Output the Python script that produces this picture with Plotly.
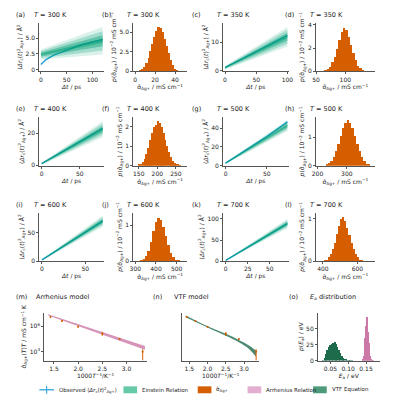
import plotly.graph_objects as go

temps = [300, 350, 400, 500, 600, 700]
t_max = [120, 100, 80, 75, 70, 70]
msd_yrange = [7.5, 17, 30, 52, 85, 115]
msd_yticks = [[0, 2.5, 5.0], [0, 10], [0, 20], [0, 20, 40], [0, 50], [0, 50, 100]]
msd_xticks = [[0, 50, 100], [0, 50, 100], [0, 50], [0, 50], [0, 50], [0, 25, 50]]
band_start = [2.4, 1.0, 1.0, 2.5, 2.0, 2.0]
band_start_hw = [0.8, 0.6, 0.6, 1.0, 1.0, 1.0]
band_end = [4.6, 12.0, 22.5, 43.0, 70.0, 89.0]
band_end_hw = [2.2, 3.5, 5.0, 6.0, 10.0, 11.0]
obs_t = [[0, 10, 25, 50, 80, 120], [0, 100], [0, 80], [0, 25, 50, 75], [0, 70], [0, 70]]
obs_y = [[0.8, 1.6, 2.3, 3.1, 4.0, 4.8], [1.0, 12.5], [1.0, 23.0], [2.5, 17, 31, 47], [2.0, 70], [2.0, 89]]

hist_x0 = [6, 66, 152.5, 232, 330, 410]
hist_dx = [2, 4, 5, 8, 12, 12]
hist_h = [
    [0.1, 0.3, 0.6, 1.1, 1.8, 2.6, 3.5, 4.4, 5.2, 5.7, 5.6, 5.0, 4.2, 3.3, 2.4, 1.5, 0.8, 0.3, 0.1],
    [0.1, 0.2, 0.4, 0.8, 1.3, 2.0, 2.7, 3.4, 3.8, 3.6, 3.0, 2.3, 1.6, 1.0, 0.5, 0.3, 0.1, 0.05],
    [0.05, 0.1, 0.2, 0.35, 0.6, 0.9, 1.3, 1.7, 2.0, 2.1, 2.3, 2.2, 2.0, 1.7, 1.3, 1.0, 0.7, 0.45, 0.25, 0.15, 0.08, 0.04, 0.02],
    [0.03, 0.08, 0.17, 0.3, 0.5, 0.75, 1.05, 1.3, 1.5, 1.6, 1.5, 1.3, 1.05, 0.75, 0.5, 0.3, 0.15, 0.07, 0.03],
    [0.03, 0.07, 0.15, 0.3, 0.55, 0.85, 1.1, 1.2, 1.15, 0.95, 0.7, 0.45, 0.25, 0.12, 0.06, 0.03, 0.01],
    [0.02, 0.05, 0.1, 0.18, 0.3, 0.45, 0.65, 0.85, 1.0, 1.05, 0.95, 0.8, 0.62, 0.45, 0.3, 0.18, 0.1, 0.05, 0.03, 0.01, 0.005],
]
hist_xrange = [[-2, 52], [50, 150], [135, 280], [195, 395], [290, 550], [360, 700]]
hist_yrange = [6.2, 4.2, 2.5, 1.7, 1.35, 1.15]
hist_xticks = [[0, 20, 40], [50, 100], [150, 200, 250], [200, 300], [300, 400, 500], [400, 600]]
hist_yticks = [[0, 2.5, 5.0], [0, 2, 4], [0, 1, 2], [0, 1], [0, 1], [0, 1]]

inv_T = [1.4286, 1.6667, 2.0, 2.5, 2.857, 3.333]
log_sigT = [6.72, 6.42, 5.95, 5.4, 5.0, 4.0]
log_err_up = [0.05, 0.05, 0.05, 0.15, 0.06, 0.2]
log_err_dn = [0.05, 0.05, 0.05, 0.15, 0.06, 0.7]

arr_x = [1.38, 3.38]
arr_lo = [6.85, 4.15]
arr_hi = [6.95, 4.45]
vtf_x = [1.40, 2.0, 2.5, 2.857, 3.1, 3.33]
vtf_lo = [6.70, 5.90, 5.25, 4.75, 4.30, 3.60]
vtf_hi = [6.85, 6.00, 5.40, 4.92, 4.55, 4.10]

ea_vtf_x0, ea_vtf_dx = 0.030, 0.004
ea_vtf_h = [1, 4, 10, 17, 22, 25, 27, 28, 30, 27, 22, 17, 12, 8, 5, 3, 2, 1, 1, 0.5, 0.3]
ea_arr_x0, ea_arr_dx = 0.140, 0.002
ea_arr_h = [1, 3, 8, 18, 35, 55, 68, 62, 45, 28, 15, 7, 3, 1, 0.5, 0.2]

C_EIN = "#009e73"; C_OBS = "#1f9fd8"; C_SIG = "#d55e00"; C_ARR = "#cc79a7"; C_VTF = "#1d6b4a"
FONT = dict(family="DejaVu Sans", size=6, color="#222")
LFONT = dict(family="DejaVu Sans", size=5.5, color="#222")

def PX(px):
    return (px - 9) / 400

def PY(py):
    return 1 - ((py - 2) / 1.014) / 400

fig = go.Figure()
layout = {}
col_x = [(37, 103), (133, 188), (225, 292), (320, 380)]
row_y = [(15, 65), (112, 162), (210, 260)]
labels = "abcdefghijkl"
ann = []
shapes = []

def ax_style(**kw):
    d = dict(showline=True, linecolor="#555", linewidth=1, ticks="outside", ticklen=2,
             tickcolor="#555", showgrid=False, zeroline=False, tickfont=FONT,
             title_font=FONT, title_standoff=2)
    d.update(kw)
    return d

def fmt(v):
    return f"{v:.1f}" if isinstance(v, float) else str(v)

msd_ytitle = "⟨<i>Δr</i><sub>c</sub>(<i>t</i>)<sup>2</sup><sub>Ag+</sub>⟩ / Å<sup>2</sup>"
sig = "σ̂<sub>Ag+</sub>"
n = 0
for i, T in enumerate(temps):
    r = i // 2
    c = (i % 2) * 2
    for k in range(2):
        n += 1
        xa, ya = f"x{n}", f"y{n}"
        xl, yl = ("xaxis" if n == 1 else f"xaxis{n}"), ("yaxis" if n == 1 else f"yaxis{n}")
        x0, x1 = col_x[c + k]
        y0, y1 = row_y[r]
        dom_x = [PX(x0), PX(x1)]
        dom_y = [PY(y1), PY(y0)]
        if k == 0:
            tm = t_max[i]
            fig.add_trace(go.Scatter(x=obs_t[i], y=obs_y[i], mode="lines", line=dict(color=C_OBS, width=1.5),
                                     xaxis=xa, yaxis=ya, showlegend=False))
            for frac, op in [(1.0, 0.15), (0.7, 0.25), (0.4, 0.4), (0.15, 0.5)]:
                lo = [band_start[i] - frac * band_start_hw[i], band_end[i] - frac * band_end_hw[i]]
                hi = [band_start[i] + frac * band_start_hw[i], band_end[i] + frac * band_end_hw[i]]
                fig.add_trace(go.Scatter(x=[0, tm], y=lo, mode="lines", line=dict(width=0),
                                         xaxis=xa, yaxis=ya, showlegend=False, hoverinfo="skip"))
                fig.add_trace(go.Scatter(x=[0, tm], y=hi, mode="lines", line=dict(width=0), fill="tonexty",
                                         fillcolor=f"rgba(0,158,115,{op})", xaxis=xa, yaxis=ya,
                                         showlegend=False, hoverinfo="skip"))
            layout[xl] = ax_style(domain=dom_x, anchor=ya, range=[-3, tm * 1.02], tickvals=msd_xticks[i],
                                  title_text="<i>Δt</i> / ps")
            layout[yl] = ax_style(domain=dom_y, anchor=xa, range=[-0.3, msd_yrange[i]], tickvals=msd_yticks[i],
                                  ticktext=[fmt(v) for v in msd_yticks[i]], title_text=msd_ytitle)
        else:
            h = hist_h[i]
            xs = [hist_x0[i] + j * hist_dx[i] for j in range(len(h))]
            fig.add_trace(go.Bar(x=xs, y=h, width=hist_dx[i], marker=dict(color=C_SIG, line=dict(width=0)),
                                 xaxis=xa, yaxis=ya, showlegend=False))
            layout[xl] = ax_style(domain=dom_x, anchor=ya, range=hist_xrange[i], tickvals=hist_xticks[i],
                                  title_text=f"{sig} / mS cm<sup>−1</sup>")
            layout[yl] = ax_style(domain=dom_y, anchor=xa, range=[0, hist_yrange[i]], tickvals=hist_yticks[i],
                                  ticktext=[fmt(v) for v in hist_yticks[i]],
                                  title_text=f"<i>p</i>({sig}) / 10<sup>−2</sup> mS cm<sup>−1</sup>")
        ann.append(dict(text=f"({labels[n-1]})", x=max(PX(x0 - 34), 0.004), y=PY(y0 - 8), xref="paper", yref="paper",
                        showarrow=False, xanchor="left", yanchor="middle", font=dict(FONT, size=6.5)))
        ann.append(dict(text=f"<i>T</i> = {T} K", x=PX(x0 - 8), y=PY(y0 - 8), xref="paper", yref="paper",
                        showarrow=False, xanchor="left", yanchor="middle", font=dict(FONT, size=6.5)))

r4y = [PY(362), PY(313)]
err_up = [10 ** (v + e) - 10 ** v for v, e in zip(log_sigT, log_err_up)]
err_dn = [10 ** v - 10 ** (v - e) for v, e in zip(log_sigT, log_err_dn)]
n += 1; xm, ym = f"x{n}", f"y{n}"
fig.add_trace(go.Scatter(x=arr_x, y=[10 ** v for v in arr_lo], mode="lines", line=dict(width=0), xaxis=xm, yaxis=ym, showlegend=False))
fig.add_trace(go.Scatter(x=arr_x, y=[10 ** v for v in arr_hi], mode="lines", line=dict(width=0), fill="tonexty",
                         fillcolor="rgba(204,121,167,0.8)", xaxis=xm, yaxis=ym, showlegend=False))
fig.add_trace(go.Scatter(x=inv_T, y=[10 ** v for v in log_sigT], mode="markers", marker=dict(size=2, color=C_SIG),
                         error_y=dict(type="data", array=err_up, arrayminus=err_dn, color=C_SIG, thickness=1, width=0),
                         xaxis=xm, yaxis=ym, showlegend=False))
layout[f"xaxis{n}"] = ax_style(domain=[PX(42), PX(147)], anchor=ym, range=[1.3, 3.42], tickvals=[1.5, 2.0, 2.5, 3.0],
                               ticktext=["1.5", "2.0", "2.5", "3.0"], title_text="1000<i>T</i><sup>−1</sup>/K<sup>−1</sup>")
layout[f"yaxis{n}"] = ax_style(domain=r4y, anchor=xm, type="log", range=[3.3, 7.05], tickvals=[1e4, 1e6],
                               ticktext=["10<sup>4</sup>", "10<sup>6</sup>"],
                               title_text=f"{sig}(<i>T</i>)<i>T</i> / mS cm<sup>−1</sup> K")
n += 1; xn, yn = f"x{n}", f"y{n}"
fig.add_trace(go.Scatter(x=vtf_x, y=[10 ** v for v in vtf_lo], mode="lines", line=dict(width=0, shape="spline"), xaxis=xn, yaxis=yn, showlegend=False))
fig.add_trace(go.Scatter(x=vtf_x, y=[10 ** v for v in vtf_hi], mode="lines", line=dict(width=0, shape="spline"), fill="tonexty",
                         fillcolor="rgba(29,107,74,0.8)", xaxis=xn, yaxis=yn, showlegend=False))
fig.add_trace(go.Scatter(x=inv_T, y=[10 ** v for v in log_sigT], mode="markers", marker=dict(size=2, color=C_SIG),
                         error_y=dict(type="data", array=err_up, arrayminus=err_dn, color=C_SIG, thickness=1, width=0),
                         xaxis=xn, yaxis=yn, showlegend=False))
layout[f"xaxis{n}"] = ax_style(domain=[PX(183), PX(262)], anchor=yn, range=[1.3, 3.42], tickvals=[1.5, 2.0, 2.5, 3.0],
                               ticktext=["1.5", "2.0", "2.5", "3.0"], title_text="1000<i>T</i><sup>−1</sup>/K<sup>−1</sup>")
layout[f"yaxis{n}"] = ax_style(domain=r4y, anchor=xn, type="log", range=[3.3, 7.05], showticklabels=False, ticks="")
n += 1; xo, yo = f"x{n}", f"y{n}"
fig.add_trace(go.Bar(x=[ea_vtf_x0 + j * ea_vtf_dx for j in range(len(ea_vtf_h))], y=ea_vtf_h, width=ea_vtf_dx,
                     marker=dict(color=C_VTF, line=dict(width=0)), xaxis=xo, yaxis=yo, showlegend=False))
fig.add_trace(go.Bar(x=[ea_arr_x0 + j * ea_arr_dx for j in range(len(ea_arr_h))], y=ea_arr_h, width=ea_arr_dx,
                     marker=dict(color=C_ARR, line=dict(width=0)), xaxis=xo, yaxis=yo, showlegend=False))
layout[f"xaxis{n}"] = ax_style(domain=[PX(322), PX(385)], anchor=yo, range=[0.015, 0.188], tickvals=[0.05, 0.10, 0.15],
                               ticktext=["0.05", "0.10", "0.15"], title_text="<i>E</i><sub>a</sub> / eV")
layout[f"yaxis{n}"] = ax_style(domain=r4y, anchor=xo, range=[0, 75], tickvals=[0, 25, 50],
                               title_text="<i>p</i>(<i>E</i><sub>a</sub>) / eV")
for lab, txt, x0 in [("(m)", "Arrhenius model", 42), ("(n)", "VTF model", 183), ("(o)", "<i>E</i><sub>a</sub> distribution", 322)]:
    ann.append(dict(text=lab, x=max(PX(x0 - 32), 0.004), y=PY(303), xref="paper", yref="paper", showarrow=False,
                    xanchor="left", font=dict(FONT, size=6.5)))
    ann.append(dict(text=txt, x=PX(x0 - 10), y=PY(303), xref="paper", yref="paper", showarrow=False,
                    xanchor="left", font=dict(FONT, size=6.5)))

ly = PY(392)
shapes.append(dict(type="line", xref="paper", yref="paper", x0=PX(37), x1=PX(52), y0=ly, y1=ly,
                   line=dict(color=C_OBS, width=1.2)))
shapes.append(dict(type="line", xref="paper", yref="paper", x0=PX(44.5), x1=PX(44.5), y0=ly - 4 / 400, y1=ly + 4 / 400,
                   line=dict(color=C_OBS, width=1)))
ann.append(dict(text="Observed ⟨<i>Δr</i><sub>c</sub>(<i>t</i>)<sup>2</sup><sub>Ag+</sub>⟩", x=PX(55), y=ly,
                xref="paper", yref="paper", showarrow=False, xanchor="left", yanchor="middle", font=LFONT))
for nm, col, sx in [("Einstein Relation", "#66c9a8", 123), (sig, C_SIG, 199), ("Arrhenius Relation", "#e4aed0", 250),
                    ("VTF Equation", "#4e9b7c", 317)]:
    shapes.append(dict(type="rect", xref="paper", yref="paper", x0=PX(sx), x1=PX(sx + 14),
                       y0=ly - 3.5 / 400, y1=ly + 3.5 / 400, fillcolor=col, line=dict(width=0)))
    ann.append(dict(text=nm, x=PX(sx + 17), y=ly, xref="paper", yref="paper", showarrow=False,
                    xanchor="left", yanchor="middle", font=LFONT))

fig.update_layout(width=400, height=400, margin=dict(l=0, r=0, t=0, b=0), plot_bgcolor="white", paper_bgcolor="white",
                  font=FONT, barmode="overlay", bargap=0, annotations=ann, shapes=shapes, showlegend=False,
                  **layout)
fig.write_html("out.html")
